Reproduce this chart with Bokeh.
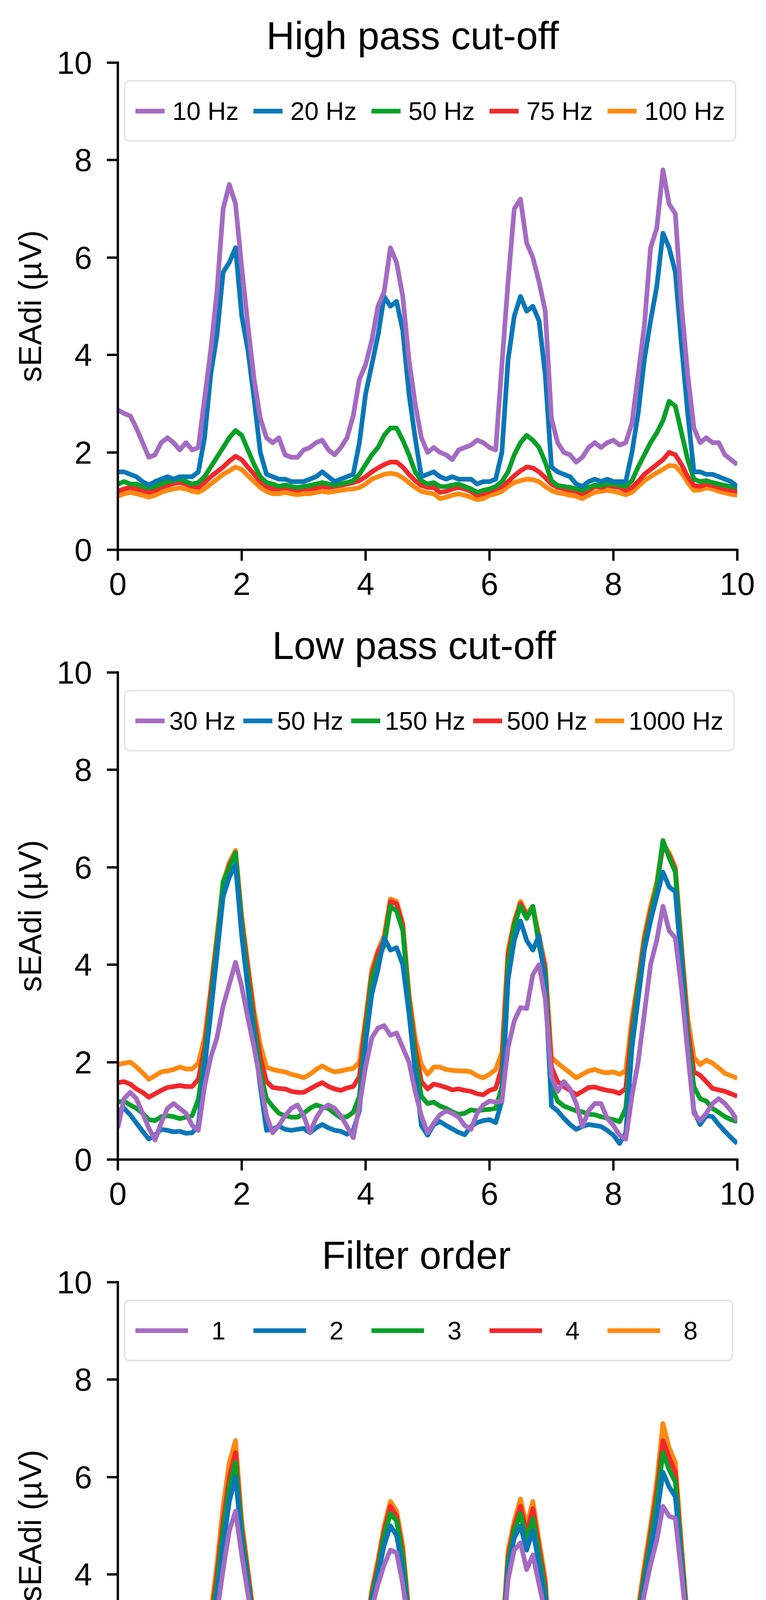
from bokeh.embed import file_html
from bokeh.layouts import column
from bokeh.models import FixedTicker, Legend, LegendItem, Range1d
from bokeh.plotting import figure
from bokeh.resources import INLINE

FONT = "Liberation Sans"

# sample instants (s), shared by every trace
t_s = [
    0.0, 0.1, 0.2, 0.3, 0.4, 0.5, 0.6, 0.7, 0.8, 0.9,
    1.0, 1.1, 1.2, 1.3, 1.4, 1.5, 1.6, 1.7, 1.8, 1.9,
    2.0, 2.1, 2.2, 2.3, 2.4, 2.5, 2.6, 2.7, 2.8, 2.9,
    3.0, 3.1, 3.2, 3.3, 3.4, 3.5, 3.6, 3.7, 3.8, 3.9,
    4.0, 4.1, 4.2, 4.3, 4.4, 4.5, 4.6, 4.7, 4.8, 4.9,
    5.0, 5.1, 5.2, 5.3, 5.4, 5.5, 5.6, 5.7, 5.8, 5.9,
    6.0, 6.1, 6.2, 6.3, 6.4, 6.5, 6.6, 6.7, 6.8, 6.9,
    7.0, 7.1, 7.2, 7.3, 7.4, 7.5, 7.6, 7.7, 7.8, 7.9,
    8.0, 8.1, 8.2, 8.3, 8.4, 8.5, 8.6, 8.7, 8.8, 8.9,
    9.0, 9.1, 9.2, 9.3, 9.4, 9.5, 9.6, 9.7, 9.8, 9.9,
    10.0,
]

# --- high pass cut-off ---
hp_labels = ["10 Hz", "20 Hz", "50 Hz", "75 Hz", "100 Hz"]
hp_10 = [
    2.87, 2.8, 2.75, 2.5, 2.2, 1.9, 1.95, 2.2, 2.3, 2.2,
    2.05, 2.2, 2.05, 2.1, 3.1, 4.1, 5.3, 7.0, 7.5, 7.1,
    5.8, 4.6, 3.5, 2.7, 2.3, 2.2, 2.3, 1.95, 1.9, 1.9,
    2.05, 2.1, 2.2, 2.25, 2.05, 1.95, 2.1, 2.3, 2.75, 3.5,
    3.8, 4.3, 5.0, 5.3, 6.2, 5.9, 5.2, 3.9, 3.0, 2.3,
    2.0, 2.1, 2.0, 1.95, 1.85, 2.05, 2.1, 2.15, 2.25, 2.2,
    2.1, 2.05, 3.8, 5.5, 7.0, 7.2, 6.3, 6.0, 5.5, 4.9,
    2.7, 2.2, 2.0, 1.95, 1.8, 1.9, 2.1, 2.2, 2.1, 2.2,
    2.25, 2.15, 2.2, 2.6, 3.6, 4.6, 6.2, 6.6, 7.8, 7.1,
    6.9, 5.0, 3.6, 2.5, 2.2, 2.3, 2.2, 2.2, 1.95, 1.85,
    1.75,
]
hp_20 = [
    1.6, 1.6, 1.55, 1.5, 1.4, 1.33, 1.4, 1.45, 1.5, 1.45,
    1.5, 1.5, 1.5, 1.6, 2.3, 3.6, 4.4, 5.7, 5.9, 6.2,
    4.8, 4.1, 3.1, 2.0, 1.55, 1.5, 1.45, 1.45, 1.4, 1.4,
    1.4, 1.45, 1.5, 1.6, 1.5, 1.4, 1.45, 1.5, 1.55, 2.2,
    3.2, 3.8, 4.4, 5.2, 5.0, 5.1, 4.5, 3.2, 2.3, 1.5,
    1.55, 1.6, 1.5, 1.45, 1.5, 1.45, 1.45, 1.45, 1.35, 1.4,
    1.4, 1.45, 2.0, 3.9, 4.8, 5.2, 4.9, 5.0, 4.7, 3.6,
    1.7, 1.6, 1.55, 1.5, 1.35, 1.3, 1.4, 1.45, 1.4, 1.45,
    1.4, 1.4, 1.4, 2.0, 2.8, 3.9, 4.7, 5.4, 6.5, 6.2,
    5.7, 4.2, 2.8, 1.6, 1.6, 1.55, 1.55, 1.5, 1.45, 1.4,
    1.3,
]
hp_50 = [
    1.35, 1.4, 1.35, 1.35, 1.3, 1.27, 1.3, 1.35, 1.4, 1.42,
    1.45, 1.4, 1.35, 1.38, 1.5, 1.7, 1.9, 2.1, 2.3, 2.45,
    2.35, 2.05, 1.75, 1.5, 1.38, 1.35, 1.3, 1.33, 1.3, 1.28,
    1.3, 1.32, 1.35, 1.38, 1.35, 1.33, 1.35, 1.38, 1.42, 1.55,
    1.75, 1.95, 2.1, 2.35, 2.5, 2.5, 2.25, 1.95, 1.6, 1.42,
    1.35, 1.38, 1.3, 1.3, 1.33, 1.35, 1.3, 1.25, 1.18, 1.22,
    1.25, 1.3, 1.4, 1.6, 1.95, 2.2, 2.35, 2.25, 2.1, 1.8,
    1.42, 1.32, 1.3, 1.28, 1.25, 1.22, 1.28, 1.33, 1.32, 1.35,
    1.35, 1.33, 1.3, 1.42, 1.7, 1.95, 2.2, 2.4, 2.65, 3.05,
    2.95, 2.4, 1.85, 1.45, 1.4, 1.42, 1.38, 1.35, 1.32, 1.3,
    1.28,
]
hp_75 = [
    1.2, 1.25, 1.28, 1.25, 1.22, 1.18, 1.22, 1.28, 1.32, 1.36,
    1.38, 1.35, 1.3, 1.28, 1.38, 1.5, 1.6, 1.7, 1.82, 1.92,
    1.85, 1.7, 1.55, 1.4, 1.3, 1.25, 1.25, 1.28, 1.25, 1.22,
    1.25, 1.25, 1.27, 1.3, 1.28, 1.3, 1.32, 1.35, 1.38, 1.42,
    1.5, 1.6, 1.68, 1.75, 1.8, 1.8, 1.7, 1.55, 1.42, 1.32,
    1.28, 1.28, 1.18, 1.2, 1.25, 1.28, 1.25, 1.2, 1.12, 1.15,
    1.2, 1.25, 1.3, 1.4, 1.52, 1.62, 1.7, 1.68, 1.6, 1.48,
    1.35, 1.28, 1.25, 1.22, 1.2, 1.15, 1.22, 1.3, 1.28, 1.32,
    1.3, 1.28, 1.22, 1.28, 1.4, 1.55, 1.65, 1.75, 1.85, 2.0,
    1.95, 1.75, 1.5, 1.32, 1.3, 1.35, 1.32, 1.28, 1.25, 1.22,
    1.2,
]
hp_100 = [
    1.1, 1.15, 1.18, 1.15, 1.12, 1.08, 1.12, 1.18, 1.22, 1.25,
    1.27, 1.25, 1.2, 1.18, 1.25, 1.35, 1.45, 1.55, 1.62, 1.7,
    1.65, 1.52, 1.4, 1.28, 1.2, 1.15, 1.15, 1.18, 1.15, 1.13,
    1.15, 1.15, 1.18, 1.2, 1.18, 1.2, 1.22, 1.24, 1.25, 1.28,
    1.35, 1.45, 1.5, 1.55, 1.57, 1.55, 1.48, 1.38, 1.28, 1.2,
    1.17, 1.15, 1.05, 1.08, 1.12, 1.15, 1.12, 1.08, 1.03, 1.05,
    1.12, 1.15, 1.2, 1.3, 1.38, 1.42, 1.45, 1.44, 1.4, 1.3,
    1.22, 1.17, 1.15, 1.12, 1.1, 1.05, 1.12, 1.18, 1.2, 1.22,
    1.2, 1.17, 1.13, 1.18, 1.3, 1.42, 1.5, 1.58, 1.65, 1.73,
    1.72, 1.58, 1.38, 1.22, 1.23, 1.27, 1.25, 1.2, 1.17, 1.14,
    1.12,
]

# --- low pass cut-off ---
lp_labels = ["30 Hz", "50 Hz", "150 Hz", "500 Hz", "1000 Hz"]
lp_30 = [
    0.65, 1.25, 1.38, 1.25, 0.95, 0.65, 0.4, 0.75, 1.05, 1.15,
    1.05, 0.95, 0.7, 0.6, 1.5, 2.1, 2.5, 3.15, 3.6, 4.05,
    3.55, 2.9, 2.3, 1.6, 0.9, 0.55, 0.7, 0.9, 1.05, 1.12,
    0.9, 0.55, 0.85, 1.05, 1.12, 1.05, 0.9, 0.68, 0.45, 1.1,
    1.9, 2.5, 2.7, 2.75, 2.55, 2.6, 2.3, 2.0, 1.4, 0.9,
    0.55, 0.75, 0.92, 1.0, 0.95, 0.87, 0.7, 0.62, 0.95, 1.12,
    1.2, 1.18, 1.2, 2.3, 2.85, 3.12, 3.1, 3.8, 4.0, 3.3,
    1.7, 1.4, 1.6, 1.45, 1.15, 0.68, 1.0, 1.15, 1.15, 0.85,
    0.7, 0.5, 0.42, 1.3, 2.0, 3.0, 4.0, 4.5, 5.2, 4.7,
    4.55, 3.5, 2.2, 0.95, 0.8, 0.95, 1.15, 1.25, 1.15, 1.0,
    0.8,
]
lp_50 = [
    1.0, 1.05, 0.92, 0.75, 0.58, 0.42, 0.5, 0.62, 0.6, 0.57,
    0.58, 0.54, 0.55, 0.7, 1.9, 3.0, 4.2, 5.4, 5.8, 6.05,
    4.6, 3.5, 2.5, 1.5, 0.6, 0.62, 0.69, 0.62, 0.6, 0.62,
    0.64, 0.55, 0.65, 0.72, 0.65, 0.6, 0.58, 0.52, 0.6, 1.0,
    2.4, 3.4, 3.9, 4.55, 4.3, 4.35, 4.0, 3.0, 1.8, 0.7,
    0.5, 0.72, 0.78, 0.7, 0.63, 0.56, 0.51, 0.68, 0.76, 0.8,
    0.82, 0.76, 1.2, 3.7, 4.5, 4.9, 4.5, 4.3, 4.6, 3.6,
    1.1, 1.0, 0.85, 0.72, 0.62, 0.68, 0.72, 0.7, 0.68, 0.6,
    0.5, 0.33, 0.55, 2.3, 3.3, 4.3, 4.9, 5.4, 5.9, 5.6,
    5.5, 4.0, 2.3, 1.0, 0.72, 0.9, 0.88, 0.72, 0.58, 0.45,
    0.33,
]
lp_150 = [
    1.18, 1.2, 1.12, 1.05, 0.95, 0.82, 0.8, 0.88, 0.9, 0.88,
    0.84, 0.87, 0.9, 1.24, 2.1, 3.2, 4.4, 5.7, 6.0, 6.3,
    4.8, 3.7, 2.7, 1.8, 1.25, 1.09, 0.95, 0.9, 0.87, 0.87,
    0.95, 1.05, 1.12, 1.08, 1.05, 0.95, 0.86, 0.88, 0.97, 1.3,
    2.6, 3.7, 4.1, 4.4, 5.2, 5.1, 4.7, 3.2, 2.1, 1.3,
    1.15, 1.18, 1.1, 1.05, 0.98, 0.93, 0.95, 1.02, 1.0, 1.02,
    1.03, 1.05, 1.5, 4.0, 4.8, 5.2, 4.95, 5.2, 4.4, 3.8,
    1.5, 1.2, 1.1, 1.05, 1.0, 0.98, 0.93, 0.92, 0.88, 0.85,
    0.82, 0.78, 1.05, 2.5, 3.5, 4.4, 5.0, 5.6, 6.55, 6.2,
    5.9, 4.2, 2.5, 1.5, 1.25, 1.2, 1.05, 0.97, 0.88, 0.82,
    0.78,
]
lp_500 = [
    1.58, 1.6, 1.55, 1.45, 1.38, 1.28, 1.35, 1.42, 1.48, 1.5,
    1.52, 1.5, 1.5, 1.65, 2.3, 3.4, 4.5, 5.6, 6.05, 6.3,
    4.9, 3.9, 2.9, 2.1, 1.6, 1.48, 1.46, 1.45, 1.4, 1.38,
    1.38, 1.45, 1.52, 1.58, 1.5, 1.45, 1.42, 1.47, 1.5, 1.7,
    2.8, 3.8, 4.25, 4.5, 5.3, 5.25, 4.8, 3.3, 2.3, 1.6,
    1.45, 1.55, 1.52, 1.48, 1.43, 1.45, 1.42, 1.4, 1.35, 1.33,
    1.42, 1.46, 1.9, 4.2, 4.85, 5.25, 5.0, 5.15, 4.5, 3.9,
    1.9, 1.6, 1.5, 1.42, 1.33, 1.4, 1.48, 1.49, 1.45, 1.42,
    1.4, 1.36, 1.46, 2.7, 3.6, 4.5, 5.1, 5.6, 6.45, 6.25,
    5.95, 4.3, 2.7, 1.8, 1.73, 1.6, 1.46, 1.43, 1.4, 1.35,
    1.3,
]
lp_1000 = [
    1.95, 1.98, 2.0, 1.9, 1.78, 1.65, 1.72, 1.8, 1.82, 1.85,
    1.9, 1.86, 1.86, 1.98, 2.5, 3.5, 4.6, 5.7, 6.1, 6.35,
    5.0, 4.0, 3.05, 2.35, 1.9, 1.85, 1.82, 1.8, 1.75, 1.72,
    1.68, 1.75, 1.85, 1.92, 1.85, 1.8, 1.82, 1.85, 1.87, 2.0,
    2.9, 3.9, 4.3, 4.6, 5.35, 5.3, 4.85, 3.4, 2.5, 1.95,
    1.75, 1.9, 1.9, 1.85, 1.83, 1.82, 1.82, 1.8, 1.72, 1.68,
    1.75, 1.85, 2.2, 4.3, 4.9, 5.3, 5.05, 5.2, 4.6, 4.0,
    2.1, 1.98, 1.88, 1.78, 1.68, 1.75, 1.82, 1.85, 1.8, 1.78,
    1.8, 1.75, 1.82, 2.9, 3.7, 4.6, 5.2, 5.7, 6.5, 6.3,
    6.0, 4.4, 2.9, 2.1, 1.95, 2.04, 1.98, 1.88, 1.77, 1.72,
    1.67,
]

# --- filter order ---
ord_labels = ["1", "2", "3", "4", "8"]
ord_1 = [
    1.65, 1.65, 1.6, 1.55, 1.45, 1.38, 1.35, 1.42, 1.5, 1.5,
    1.55, 1.52, 1.55, 1.58, 1.8, 2.5, 3.2, 4.1, 4.9, 5.3,
    4.4, 3.6, 2.8, 2.0, 1.55, 1.72, 1.5, 1.42, 1.4, 1.45,
    1.42, 1.48, 1.55, 1.5, 1.4, 1.38, 1.45, 1.55, 1.6, 1.7,
    2.5, 3.3, 3.8, 4.2, 4.5, 4.45, 3.8, 2.9, 2.1, 1.55,
    1.38, 1.58, 1.5, 1.52, 1.5, 1.46, 1.48, 1.5, 1.45, 1.38,
    1.45, 1.52, 2.4, 3.9, 4.5, 4.65, 4.1, 4.4, 3.8, 3.2,
    1.65, 1.58, 1.52, 1.48, 1.4, 1.36, 1.42, 1.48, 1.45, 1.42,
    1.48, 1.5, 1.6, 2.2, 2.9, 3.6, 4.2, 4.7, 5.4, 5.2,
    5.15, 4.0, 2.8, 1.9, 1.5, 1.72, 1.62, 1.52, 1.42, 1.37,
    1.33,
]
ord_2 = [
    1.58, 1.6, 1.58, 1.52, 1.42, 1.33, 1.3, 1.38, 1.45, 1.47,
    1.52, 1.48, 1.5, 1.55, 1.9, 2.8, 3.6, 4.6, 5.5, 6.0,
    4.7, 3.8, 2.9, 2.05, 1.5, 1.6, 1.45, 1.38, 1.36, 1.4,
    1.38, 1.44, 1.52, 1.5, 1.36, 1.34, 1.42, 1.5, 1.55, 1.68,
    2.55, 3.45, 4.0, 4.6, 5.0, 4.8, 4.1, 3.0, 2.15, 1.52,
    1.34, 1.55, 1.48, 1.48, 1.45, 1.42, 1.44, 1.45, 1.4, 1.33,
    1.42, 1.48, 2.45, 4.1, 4.75, 5.0, 4.5, 4.9, 4.2, 3.5,
    1.65, 1.55, 1.48, 1.42, 1.33, 1.32, 1.38, 1.45, 1.42, 1.38,
    1.4, 1.35, 1.5, 2.25, 3.0, 3.8, 4.5, 5.2, 6.1, 5.8,
    5.6, 4.2, 2.85, 1.9, 1.45, 1.68, 1.58, 1.48, 1.38, 1.32,
    1.28,
]
ord_3 = [
    1.65, 1.68, 1.65, 1.6, 1.48, 1.38, 1.35, 1.43, 1.5, 1.52,
    1.56, 1.52, 1.54, 1.6, 2.0, 2.95, 3.8, 4.9, 5.8, 6.3,
    4.85, 3.9, 2.95, 2.1, 1.57, 1.65, 1.5, 1.43, 1.42, 1.45,
    1.42, 1.48, 1.56, 1.55, 1.42, 1.4, 1.46, 1.53, 1.58, 1.72,
    2.6, 3.55, 4.1, 4.8, 5.25, 5.1, 4.35, 3.1, 2.2, 1.57,
    1.42, 1.6, 1.55, 1.53, 1.5, 1.47, 1.47, 1.47, 1.48, 1.45,
    1.5, 1.55, 2.5, 4.25, 4.9, 5.25, 4.7, 5.15, 4.4, 3.65,
    1.72, 1.62, 1.55, 1.48, 1.38, 1.38, 1.45, 1.5, 1.46, 1.43,
    1.45, 1.45, 1.55, 2.3, 3.1, 3.95, 4.7, 5.5, 6.5, 6.15,
    5.9, 4.35, 2.9, 1.95, 1.52, 1.72, 1.68, 1.6, 1.48, 1.4,
    1.35,
]
ord_4 = [
    1.68, 1.7, 1.7, 1.65, 1.52, 1.4, 1.36, 1.45, 1.53, 1.55,
    1.58, 1.54, 1.55, 1.62, 2.1, 3.05, 4.0, 5.1, 6.0, 6.5,
    4.95, 4.0, 3.0, 2.15, 1.6, 1.66, 1.53, 1.46, 1.46, 1.47,
    1.44, 1.5, 1.58, 1.6, 1.48, 1.44, 1.5, 1.55, 1.6, 1.75,
    2.65, 3.6, 4.2, 4.9, 5.4, 5.2, 4.45, 3.15, 2.25, 1.6,
    1.47, 1.62, 1.58, 1.56, 1.52, 1.5, 1.49, 1.48, 1.52, 1.52,
    1.56, 1.6, 2.55, 4.35, 5.0, 5.4, 4.85, 5.35, 4.55, 3.8,
    1.8, 1.7, 1.65, 1.55, 1.42, 1.42, 1.52, 1.56, 1.5, 1.47,
    1.47, 1.47, 1.57, 2.4, 3.2, 4.05, 4.85, 5.7, 6.75, 6.4,
    6.1, 4.45, 2.95, 2.0, 1.58, 1.75, 1.74, 1.65, 1.52, 1.45,
    1.38,
]
ord_8 = [
    1.75, 1.8, 1.85, 1.8, 1.6, 1.45, 1.38, 1.5, 1.6, 1.62,
    1.65, 1.58, 1.58, 1.65, 2.2, 3.2, 4.2, 5.4, 6.3, 6.75,
    5.1, 4.1, 3.1, 2.2, 1.65, 1.65, 1.6, 1.52, 1.55, 1.52,
    1.48, 1.55, 1.65, 1.72, 1.6, 1.52, 1.55, 1.58, 1.62, 1.78,
    2.7, 3.7, 4.3, 5.0, 5.5, 5.3, 4.6, 3.2, 2.3, 1.65,
    1.55, 1.65, 1.62, 1.6, 1.55, 1.55, 1.52, 1.5, 1.58, 1.62,
    1.65, 1.68, 2.6, 4.5, 5.1, 5.55, 5.0, 5.5, 4.7, 3.9,
    1.9, 1.85, 1.82, 1.65, 1.45, 1.48, 1.6, 1.65, 1.58, 1.52,
    1.5, 1.5, 1.6, 2.5, 3.3, 4.2, 5.0, 5.9, 7.1, 6.6,
    6.3, 4.6, 3.0, 2.1, 1.65, 1.8, 1.82, 1.72, 1.58, 1.5,
    1.4,
]

# purple, blue, green, red, orange (same order as the legend)
COLORS = ["#a46bc2", "#0a77b8", "#08a028", "#f2282c", "#ff8a10"]
TICKS = [0, 2, 4, 6, 8, 10]


def make_panel(title, title_offset, series, labels, leg, x_label=None):
    p = figure(
        frame_width=1585,
        frame_height=1247,
        x_range=Range1d(0, 10),
        y_range=Range1d(0, 10),
        min_border_left=301,
        min_border_right=60,
        min_border_top=160,
        min_border_bottom=263 if x_label else 154,
        output_backend="svg",
        toolbar_location=None,
        background_fill_color="white",
    )
    p.outline_line_color = None
    p.grid.visible = False

    # title sits a bit left of the frame centre, as in the original
    p.title.text = title
    p.title.align = "left"
    p.title.offset = title_offset
    p.title.standoff = 28
    p.title.text_font = FONT
    p.title.text_font_size = "100px"
    p.title.text_font_style = "normal"
    p.title.text_color = "black"

    for ax in (p.xaxis[0], p.yaxis[0]):
        ax.ticker = FixedTicker(ticks=TICKS)
        ax.axis_line_width = 6
        ax.axis_line_cap = "square"
        ax.major_tick_line_width = 6
        ax.major_tick_in = 0
        ax.major_tick_out = 28
        ax.minor_tick_line_color = None
        ax.major_label_text_font = FONT
        ax.major_label_text_font_size = "81px"
        ax.major_label_text_color = "black"
        ax.axis_label_text_font = FONT
        ax.axis_label_text_font_size = "81px"
        ax.axis_label_text_font_style = "normal"
        ax.axis_label_text_color = "black"
    p.yaxis.major_label_standoff = 38
    p.xaxis.major_label_standoff = 30
    p.yaxis.axis_label = "sEAdi (µV)"
    p.yaxis.axis_label_standoff = 20
    if x_label:
        p.xaxis.axis_label = x_label
        p.xaxis.axis_label_standoff = 30

    # draw orange first so that purple ends up on top
    renderers = [None] * len(series)
    for i in reversed(range(len(series))):
        renderers[i] = p.line(t_s, series[i], line_color=COLORS[i],
                              line_width=12, line_join="round")

    legend = Legend(
        items=[LegendItem(label=lab, renderers=[r]) for lab, r in zip(labels, renderers)],
        orientation="horizontal",
        location=(16, 1044),
        margin=0,
        padding=25,
        spacing=leg["spacing"],
        glyph_width=leg["glyph_width"],
        glyph_height=100,
        label_height=100,
        label_width=leg["label_width"],
        label_standoff=leg["standoff"],
        label_text_font=FONT,
        label_text_font_size="65px",
        label_text_color="black",
        border_line_color="#cccccc",
        border_line_width=4,
        background_fill_color="white",
        background_fill_alpha=0.8,
    )
    # rounded frame like the original, if this bokeh has it
    if "border_radius" in Legend.properties():
        legend.border_radius = 14
    p.add_layout(legend)
    return p


p1 = make_panel("High pass cut-off", 380, [hp_10, hp_20, hp_50, hp_75, hp_100], hp_labels,
                dict(spacing=1, glyph_width=75, label_width=206, standoff=20))
p2 = make_panel("Low pass cut-off", 395, [lp_30, lp_50, lp_150, lp_500, lp_1000], lp_labels,
                dict(spacing=19, glyph_width=75, label_width=0, standoff=12))
p3 = make_panel("Filter order", 522, [ord_1, ord_2, ord_3, ord_4, ord_8], ord_labels,
                dict(spacing=9, glyph_width=135, label_width=98, standoff=60), x_label="t (s)")

page = column(p1, p2, p3)
open("out.html", "w").write(file_html(page, INLINE))
